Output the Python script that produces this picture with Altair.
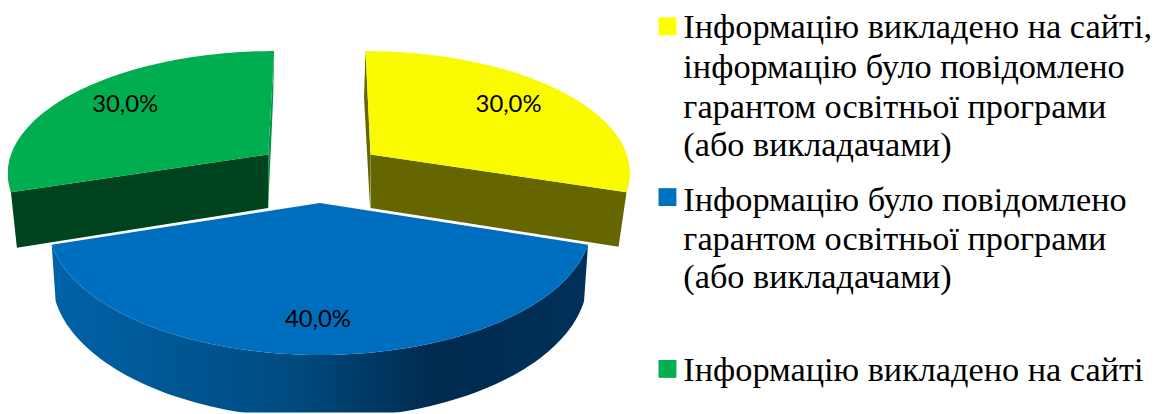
import math
import altair as alt
import pandas as pd

# --- data ---
shares = [30, 40, 30]
share_labels = ["30,0%", "40,0%", "30,0%"]
label_x = [512, 320, 126]
label_y = [104, 321, 104]
top_colors = ["#FAFA00", "#006EBE", "#00AE50"]
legend_colors = ["#FFFF00", "#0070C0", "#00B050"]
legend_square_y = [25, 197, 370]
legend_lines = [
    "Інформацію викладено на сайті,",
    "інформацію було повідомлено",
    "гарантом освітньої програми",
    "(або викладачами)",
    "Інформацію було повідомлено",
    "гарантом освітньої програми",
    "(або викладачами)",
    "Інформацію викладено на сайті",
]
legend_baselines = [37, 77, 117, 156, 211, 250, 289, 382]

# --- layout of the 3-D pie (centre, radii, perspective) ---
YEL = dict(cx=373, cy=154, A=258, B=118, p=0.134, s=5.67)
BLU = dict(cx=322, cy=203, A=270.4, B=129.4, p=0.154, s=0)
BLU_LOW = dict(cx=322, cy=257.3, A=266.4, B=137.6, p=0.154, s=0)
GRN = dict(cx=270, cy=154, A=258.9, B=118, p=0.134, s=-6.8)

edges = [0]
for v in shares:
    edges.append(edges[-1] + v / sum(shares) * 360)


def rim(g, a):
    t = math.radians(a)
    w = 1 + g["p"] * math.cos(t)
    return (
        g["cx"] + (g["A"] * math.sin(t) - g["s"] * math.cos(t)) / w,
        g["cy"] - g["B"] * math.cos(t) / w,
    )


def arc(g, a0, a1, n=90):
    return [rim(g, a0 + (a1 - a0) * i / n) for i in range(n + 1)]


xs = alt.Scale(domain=[8, 1175], nice=False, zero=False)
ys = alt.Scale(domain=[8, 414], reverse=True, nice=False, zero=False)


def poly(points, fill):
    df = pd.DataFrame(
        {"x": [p[0] for p in points], "y": [p[1] for p in points], "o": range(len(points))}
    )
    return (
        alt.Chart(df)
        .mark_line(fill=fill, stroke=None, strokeWidth=0, clip=True, interpolate="linear")
        .encode(
            x=alt.X("x:Q", scale=xs, axis=None),
            y=alt.Y("y:Q", scale=ys, axis=None),
            order="o:Q",
        )
    )


layers = []

# yellow slice
c = rim(YEL, edges[1])
layers.append(poly([rim(YEL, 0), (366.5, 97), (372.5, 207), (373, 154)], "#666600"))
layers.append(poly([(373, 154), c, (c[0] - 8, c[1] + 55), (373, 208)], "#666600"))
layers.append(poly([(373, 154)] + arc(YEL, edges[0], edges[1]), top_colors[0]))

# green slice
c = rim(GRN, edges[2])
layers.append(poly([rim(GRN, 360), (275, 97), (270, 207), (270, 154)], "#009345"))
layers.append(poly([(270, 154), c, (c[0] + 6, c[1] + 56), (270, 208)], "#00441F"))
layers.append(poly([(270, 154)] + arc(GRN, edges[2], edges[3]), top_colors[2]))

# blue slice
wall = alt.LinearGradient(
    gradient="linear",
    x1=0,
    x2=1,
    y1=0,
    y2=0,
    stops=[
        alt.GradientStop(color="#0062A8", offset=0),
        alt.GradientStop(color="#004B80", offset=0.45),
        alt.GradientStop(color="#002A4E", offset=0.72),
        alt.GradientStop(color="#00305A", offset=1),
    ],
)
layers.append(poly(arc(BLU, edges[1], edges[2]) + arc(BLU_LOW, edges[2], edges[1]), wall))
layers.append(poly([(322, 203)] + arc(BLU, edges[1], edges[2]), top_colors[1]))

# share labels
labels = pd.DataFrame({"x": label_x, "y": label_y, "t": share_labels})
layers.append(
    alt.Chart(labels)
    .mark_text(font="Lato", fontSize=24, color="#000000", align="center", baseline="middle")
    .encode(x=alt.X("x:Q", scale=xs, axis=None), y=alt.Y("y:Q", scale=ys, axis=None), text="t:N")
)

# legend squares
squares = pd.DataFrame({"x": [672] * 3, "y": legend_square_y, "c": legend_colors})
layers.append(
    alt.Chart(squares)
    .mark_point(shape="square", filled=True, size=324, opacity=1, strokeWidth=0)
    .encode(
        x=alt.X("x:Q", scale=xs, axis=None),
        y=alt.Y("y:Q", scale=ys, axis=None),
        color=alt.Color("c:N", scale=None),
    )
)

# legend text
legend_df = pd.DataFrame(
    {"x": [688] * len(legend_lines), "y": legend_baselines, "t": legend_lines}
)
layers.append(
    alt.Chart(legend_df)
    .mark_text(
        font="Liberation Serif",
        fontSize=34.5,
        color="#000000",
        align="left",
        baseline="alphabetic",
    )
    .encode(x=alt.X("x:Q", scale=xs, axis=None), y=alt.Y("y:Q", scale=ys, axis=None), text="t:N")
)

chart = (
    alt.layer(*layers)
    .properties(width=1167, height=406, padding=0, autosize=alt.AutoSizeParams(type="none"))
    .configure_view(stroke=None)
)

chart.save("out.html", embed_options={"renderer": "svg", "actions": False})
